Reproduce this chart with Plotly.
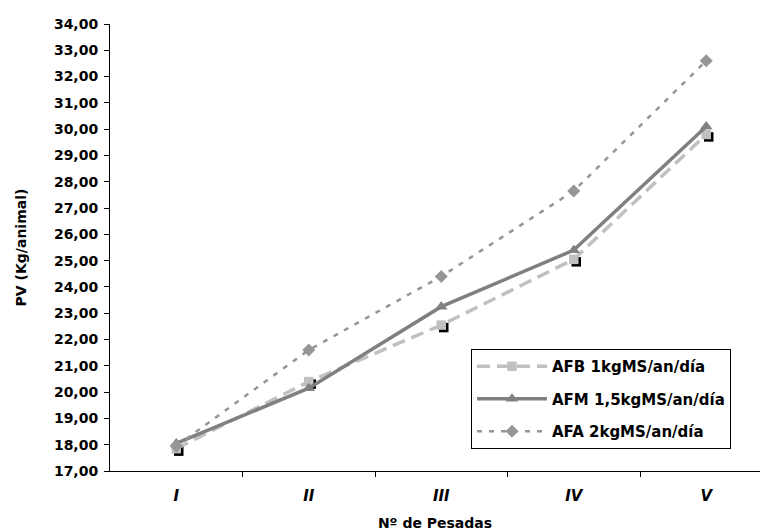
import plotly.graph_objects as go

categories = ["I", "II", "III", "IV", "V"]
afb = [17.85, 20.40, 22.55, 25.05, 29.80]
afm = [18.05, 20.15, 23.25, 25.40, 30.10]
afa = [17.95, 21.60, 24.40, 27.65, 32.60]
names = ["AFB 1kgMS/an/día", "AFM 1,5kgMS/an/día", "AFA 2kgMS/an/día"]

xpos = list(range(len(categories)))

W, H = 760, 532
ML, MR, MT, MB = 110, 0, 24, 61
pw = W - ML - MR
ph = H - MT - MB
px_per_cat = 132.5
xr = [-0.5, -0.5 + pw / px_per_cat]
yr = [17, 34]
dx = 2.5 / px_per_cat
dy = 2.5 * (yr[1] - yr[0]) / ph

FONT = "DejaVu Sans, Liberation Sans, Arial, sans-serif"

fig = go.Figure()

# empty trace so the base (visible) axes are created
fig.add_trace(go.Scatter(x=[], y=[], xaxis="x", yaxis="y", showlegend=False, hoverinfo="skip"))

# shadow for AFB squares (offset overlay axes)
fig.add_trace(go.Scatter(
    x=xpos, y=afb, mode="markers", xaxis="x2", yaxis="y2", showlegend=False,
    marker=dict(symbol="square", size=9.5, color="black"), hoverinfo="skip"))

fig.add_trace(go.Scatter(
    x=xpos, y=afb, name=names[0], legendgroup="a", mode="lines+markers", xaxis="x3", yaxis="y3",
    line=dict(color="#c0c0c0", width=3.5, dash="13px,7px"),
    marker=dict(symbol="square", size=9.5, color="#c0c0c0")))
fig.add_trace(go.Scatter(
    x=xpos, y=afm, name=names[1], legendgroup="b", mode="lines+markers", xaxis="x3", yaxis="y3",
    line=dict(color="#808080", width=3.5),
    marker=dict(symbol="triangle-up", size=11, color="#808080")))
fig.add_trace(go.Scatter(
    x=xpos, y=afa, name=names[2], legendgroup="c", mode="lines+markers", xaxis="x3", yaxis="y3",
    line=dict(color="#969696", width=2.5, dash="5px,7px"),
    marker=dict(symbol="diamond", size=10, color="#969696")))

fig.update_layout(
    width=W, height=H,
    margin=dict(l=ML, r=MR, t=MT, b=MB, pad=0),
    paper_bgcolor="white", plot_bgcolor="white",
    separators=",.",
    font=dict(family=FONT, size=14, color="black"),
    xaxis=dict(
        range=xr, tickmode="array", tickvals=xpos, ticktext=categories,
        ticks="", showgrid=False, zeroline=False,
        showline=True, linecolor="black", linewidth=1,
        tickfont=dict(family=FONT, size=15, color="black", weight="bold", style="italic"),
        ticklabelstandoff=11,
        minor=dict(tickmode="array", tickvals=[0.5, 1.5, 2.5, 3.5], ticks="outside",
                   ticklen=5, tickcolor="black", tickwidth=1, showgrid=False),
        title=dict(text="<b>Nº de Pesadas</b>", font=dict(family=FONT, size=14), standoff=14),
    ),
    yaxis=dict(
        range=yr, tickmode="linear", tick0=17, dtick=1, tickformat=".2f",
        ticks="outside", ticklen=5, tickcolor="black", tickwidth=1,
        showgrid=False, zeroline=False,
        showline=True, linecolor="black", linewidth=1,
        tickfont=dict(family=FONT, size=14, color="black", weight="bold"),
        ticklabelstandoff=3,
        title=dict(text="<b>PV (Kg/animal)</b>", font=dict(family=FONT, size=14), standoff=24),
    ),
    xaxis2=dict(overlaying="x", range=[xr[0] - dx, xr[1] - dx], visible=False),
    yaxis2=dict(overlaying="y", range=[yr[0] + dy, yr[1] + dy], visible=False),
    xaxis3=dict(overlaying="x", range=xr, visible=False),
    yaxis3=dict(overlaying="y", range=yr, visible=False),
    legend=dict(
        x=(471 - ML) / pw, y=(H - MB - 349) / ph, xanchor="left", yanchor="top",
        bgcolor="white", bordercolor="black", borderwidth=1,
        font=dict(family=FONT, size=15, color="black", weight="bold"),
        itemwidth=70, tracegroupgap=10,
    ),
    showlegend=True,
)

fig.write_html("out.html")
